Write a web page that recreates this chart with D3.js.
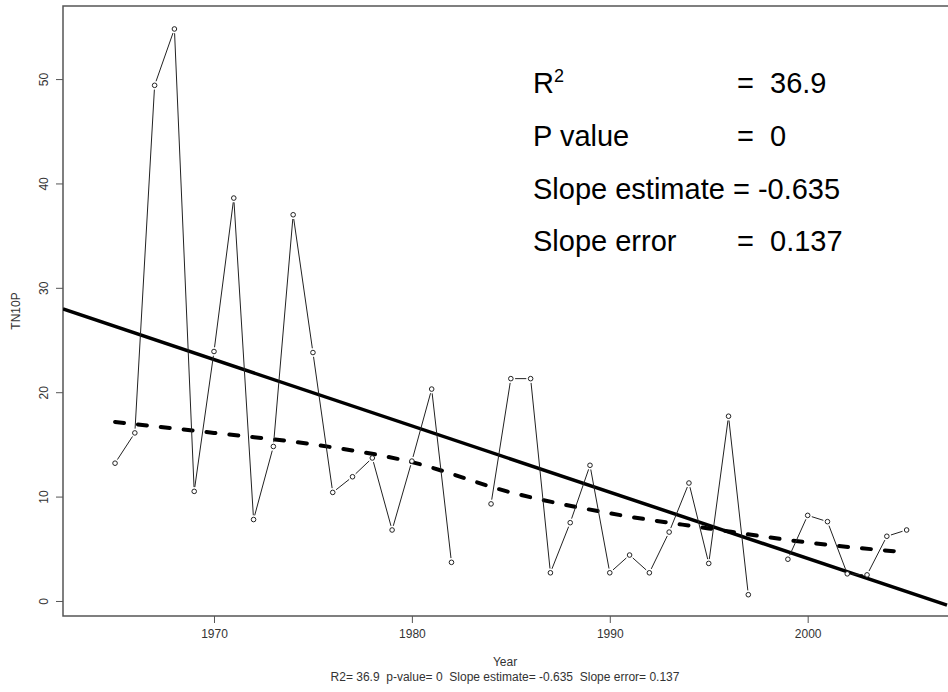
<!DOCTYPE html>
<html>
<head>
<meta charset="utf-8">
<script src="https://cdn.jsdelivr.net/npm/d3@7"></script>
<style>
    body { margin: 0; background: #fff; }
    svg { display: block; font-family: "Liberation Sans", Arial, sans-serif; }
</style>
</head>
<body>
<div id="chart"></div>
<script>
(function (d3) {
    'use strict';

    // Observed series, one value per year (null = missing year)
    var years = d3.range(1965, 2006);
    var tn10p = [
        13.2, 16.1, 49.4, 54.8, 10.5, 23.9, 38.6, 7.8, 14.8, 37.0,
        23.8, 10.4, 11.9, 13.7, 6.8, 13.4, 20.3, 3.7, null, 9.3,
        21.3, 21.3, 2.7, 7.5, 13.0, 2.7, 4.4, 2.7, 6.6, 11.3,
        3.6, 17.7, 0.6, null, 4.0, 8.2, 7.6, 2.6, 2.5, 6.2,
        6.8
    ];

    // Smoothed (dashed) curve
    var smoothYears = [1965, 1970, 1975, 1980, 1985, 1990, 1995, 2000, 2005];
    var smoothValues = [17.15, 16.1, 15.0, 13.3, 10.4, 8.4, 6.95, 5.6, 4.66];

    // Linear fit
    var slope = -0.635,
        fitAt1985 = 13.6;

    var xTicks = [1970, 1980, 1990, 2000],
        yTicks = [0, 10, 20, 30, 40, 50];

    var statLabels = ['R', 'P value', 'Slope error'],
        statValues = ['36.9', '0', '0.137'];
    var subtitle = 'R2= 36.9  p-value= 0  Slope estimate= -0.635  Slope error= 0.137';

    var width = 948,
        height = 692,
        plot = { left: 63, right: 947, top: 6, bottom: 616 };

    var svg = d3.select('#chart')
        .append('svg')
        .attr('width', width)
        .attr('height', height);

    svg.append('rect')
        .attr('width', width)
        .attr('height', height)
        .attr('fill', '#fff');

    var x = d3.scaleLinear().domain([1962.37, 2007.04]).range([plot.left, plot.right]),
        y = d3.scaleLinear().domain([-1.44, 57.0]).range([plot.bottom, plot.top]);

    svg.append('clipPath')
        .attr('id', 'clip')
        .append('rect')
        .attr('x', plot.left)
        .attr('y', plot.top)
        .attr('width', width - plot.left)
        .attr('height', plot.bottom - plot.top);

    // box (its right side falls just outside the picture)
    svg.append('rect')
        .attr('x', plot.left)
        .attr('y', plot.top)
        .attr('width', width + 4 - plot.left)
        .attr('height', plot.bottom - plot.top)
        .attr('fill', 'none')
        .attr('stroke', '#555')
        .attr('stroke-width', 1.5);

    // axes
    var xAxis = svg.append('g')
        .attr('transform', 'translate(0,' + plot.bottom + ')')
        .call(d3.axisBottom(x).tickValues(xTicks).tickFormat(d3.format('d')).tickSize(7).tickPadding(6));

    var yAxis = svg.append('g')
        .attr('transform', 'translate(' + plot.left + ',0)')
        .call(d3.axisLeft(y).tickValues(yTicks).tickSize(7).tickPadding(0));

    [xAxis, yAxis].forEach(function (ax) {
        ax.select('.domain').remove();
        ax.selectAll('line').attr('stroke', '#555');
        ax.selectAll('text')
            .attr('fill', '#333')
            .style('font-size', '12px')
            .style('font-family', '"Liberation Sans", Arial, sans-serif');
    });

    yAxis.selectAll('text')
        .attr('x', null)
        .attr('dy', null)
        .attr('text-anchor', 'middle')
        .attr('transform', 'translate(-15,0) rotate(-90)');

    var g = svg.append('g').attr('clip-path', 'url(#clip)');

    // fitted line across the whole plot
    var xd = x.domain();
    g.append('line')
        .attr('x1', x(xd[0]))
        .attr('y1', y(fitAt1985 + slope * (xd[0] - 1985)))
        .attr('x2', x(xd[1]))
        .attr('y2', y(fitAt1985 + slope * (xd[1] - 1985)))
        .attr('stroke', '#000')
        .attr('stroke-width', 3.5);

    // smoothed dashed curve
    var smooth = smoothYears.map(function (yr, i) { return [yr, smoothValues[i]]; });
    g.append('path')
        .datum(smooth)
        .attr('d', d3.line()
            .x(function (d) { return x(d[0]); })
            .y(function (d) { return y(d[1]); })
            .curve(d3.curveMonotoneX))
        .attr('fill', 'none')
        .attr('stroke', '#000')
        .attr('stroke-width', 4)
        .attr('stroke-linecap', 'round')
        .attr('stroke-dasharray', '9,14');

    // series: line segments with a gap round each point (type "b")
    var pts = years.map(function (yr, i) {
        return { year: yr, value: tn10p[i] };
    });
    var segs = [];
    for (var i = 0; i < pts.length - 1; i++) {
        var a = pts[i], b = pts[i + 1];
        if (a.value == null || b.value == null) continue;
        var ax0 = x(a.year), ay0 = y(a.value), bx0 = x(b.year), by0 = y(b.value),
            len = Math.sqrt((bx0 - ax0) * (bx0 - ax0) + (by0 - ay0) * (by0 - ay0)),
            gap = 4.3;
        if (len <= 2 * gap) continue;
        var ux = (bx0 - ax0) / len, uy = (by0 - ay0) / len;
        segs.push({ x1: ax0 + ux * gap, y1: ay0 + uy * gap, x2: bx0 - ux * gap, y2: by0 - uy * gap });
    }

    g.selectAll('line.seg')
        .data(segs)
        .enter()
        .append('line')
        .attr('class', 'seg')
        .attr('x1', function (d) { return d.x1; })
        .attr('y1', function (d) { return d.y1; })
        .attr('x2', function (d) { return d.x2; })
        .attr('y2', function (d) { return d.y2; })
        .attr('stroke', '#222')
        .attr('stroke-width', 1);

    g.selectAll('circle')
        .data(pts.filter(function (d) { return d.value != null; }))
        .enter()
        .append('circle')
        .attr('cx', function (d) { return x(d.year); })
        .attr('cy', function (d) { return y(d.value); })
        .attr('r', 2.3)
        .attr('fill', '#fff')
        .attr('stroke', '#222')
        .attr('stroke-width', 1);

    // stats text block
    var statFont = '29px',
        rows = [93, 146, 251];

    statLabels.forEach(function (lab, k) {
        var t = svg.append('text')
            .attr('x', 533)
            .attr('y', rows[k])
            .style('font-size', statFont)
            .text(lab);
        if (k === 0) {
            t.append('tspan')
                .attr('dy', -11)
                .style('font-size', '18px')
                .text('2');
        }
        svg.append('text')
            .attr('x', 737)
            .attr('y', rows[k])
            .style('font-size', statFont)
            .text('=');
        svg.append('text')
            .attr('x', 770)
            .attr('y', rows[k])
            .style('font-size', statFont)
            .text(statValues[k]);
    });

    svg.append('text')
        .attr('x', 533)
        .attr('y', 199)
        .style('font-size', statFont)
        .text('Slope estimate = -0.635');

    // axis titles
    svg.append('text')
        .attr('x', (plot.left + plot.right) / 2)
        .attr('y', 666)
        .attr('text-anchor', 'middle')
        .attr('fill', '#333')
        .style('font-size', '12px')
        .text('Year');

    svg.append('text')
        .attr('x', (plot.left + plot.right) / 2)
        .attr('y', 681)
        .attr('text-anchor', 'middle')
        .attr('fill', '#333')
        .style('font-size', '12px')
        .style('white-space', 'pre')
        .text(subtitle);

    svg.append('text')
        .attr('transform', 'translate(20,311) rotate(-90)')
        .attr('text-anchor', 'middle')
        .attr('fill', '#333')
        .style('font-size', '12px')
        .text('TN10P');

})(d3);
</script>
</body>
</html>
